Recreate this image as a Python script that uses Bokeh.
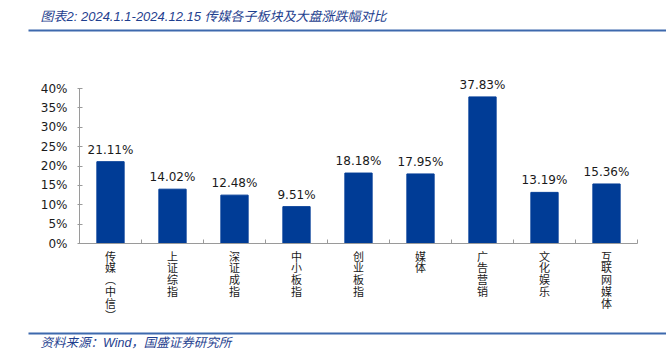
from bokeh.plotting import figure
from bokeh.models import (ColumnDataSource, FixedTicker, LabelSet, Label,
                          BoxAnnotation, NumeralTickFormatter, Range1d)
from bokeh.core.properties import value
from bokeh.embed import file_html
from bokeh.resources import INLINE

categories = ["传媒︵中信︶", "上证综指", "深证成指", "中小板指", "创业板指",
              "媒体", "广告营销", "文化娱乐", "互联网媒体"]
values = [21.11, 14.02, 12.48, 9.51, 18.18, 17.95, 37.83, 13.19, 15.36]
y_ticks = [0, 5, 10, 15, 20, 25, 30, 35, 40]

title_text = "图表2:  2024.1.1-2024.12.15 传媒各子板块及大盘涨跌幅对比"
source_text = "资料来源：Wind，国盛证券研究所"

FONT = "DejaVu Sans"
CJK = "Noto Sans CJK SC"
HEAD_FONT = "Liberation Sans, Noto Sans CJK SC"
BAR = "#003C96"
LINE = "#3D69AD"
TXT_BLUE = "#1F3F8F"
AXIS = "#9A9A9A"
TXT = "#1A1A1A"

W, H = 666, 355
L_PX, R_PX = 79, 637          # pixel columns of the category axis ends
Y0_PX, Y40_PX = 243, 88       # pixel rows of 0% and 40%
n = len(categories)

# the frame fills the whole canvas; axes are pinned at fixed locations
px_x = (R_PX - L_PX) / n
px_y = (Y0_PX - Y40_PX) / 0.40
x_range = Range1d(-L_PX / px_x, n + (W - R_PX) / px_x)
y_range = Range1d(-(H - Y0_PX) / px_y, 0.40 + Y40_PX / px_y)

xs = [i + 0.5 for i in range(n)]
src = ColumnDataSource(dict(
    x=xs, top=[v / 100 for v in values],
    lab=[f"{v:.2f}%" for v in values],
    cat=["\n".join(c) for c in categories]))

p = figure(width=W, height=H, output_backend="svg", toolbar_location=None,
           x_range=x_range, y_range=y_range, min_border=0)
p.outline_line_color = None
p.grid.visible = False

p.vbar(x="x", top="top", bottom=0, width=0.44, source=src,
       fill_color=BAR, line_color=BAR)

p.add_layout(LabelSet(x="x", y="top", text="lab", source=src,
                      text_align="center", text_baseline="bottom",
                      y_offset=5, text_font=value(FONT),
                      text_font_size="12px", text_color=TXT))

p.add_layout(LabelSet(x="x", y=0, text="cat", source=src,
                      text_align="center", text_baseline="top",
                      y_offset=-4, text_font=value(CJK),
                      text_font_size="11px", text_line_height=0.74,
                      text_color=TXT))

ya = p.yaxis[0]
ya.fixed_location = 0
ya.bounds = (0, 0.40)
ya.ticker = FixedTicker(ticks=[t / 100 for t in y_ticks])
ya.formatter = NumeralTickFormatter(format="0%")
ya.axis_line_color = AXIS
ya.major_tick_line_color = AXIS
ya.major_tick_in = 3
ya.major_tick_out = 2
ya.minor_tick_line_color = None
ya.major_label_text_font = FONT
ya.major_label_text_font_size = "12px"
ya.major_label_text_color = TXT
ya.major_label_standoff = 10

xa = p.xaxis[0]
xa.fixed_location = 0
xa.bounds = (0, n)
xa.ticker = FixedTicker(ticks=[], minor_ticks=list(range(n + 1)))
xa.axis_line_color = AXIS
xa.major_tick_line_color = None
xa.minor_tick_line_color = AXIS
xa.minor_tick_in = 4
xa.minor_tick_out = 0
xa.major_label_text_font_size = "0px"

# header and footer (screen units, measured from the bottom-left corner)
p.add_layout(Label(x=40, y=H - 16, x_units="screen", y_units="screen",
                   text=title_text, text_font=HEAD_FONT,
                   text_font_size="13px", text_font_style="italic",
                   text_color=TXT_BLUE, text_baseline="middle"))
p.add_layout(BoxAnnotation(left=28, right=W, top=H - 29, bottom=H - 31,
                           left_units="screen", right_units="screen",
                           top_units="screen", bottom_units="screen",
                           fill_color=LINE, fill_alpha=1, line_color=None))
p.add_layout(BoxAnnotation(left=28, right=W, top=H - 332, bottom=H - 334,
                           left_units="screen", right_units="screen",
                           top_units="screen", bottom_units="screen",
                           fill_color=LINE, fill_alpha=1, line_color=None))
p.add_layout(Label(x=40, y=H - 342, x_units="screen", y_units="screen",
                   text=source_text, text_font=HEAD_FONT,
                   text_font_size="12.5px", text_font_style="italic",
                   text_color=TXT_BLUE, text_baseline="middle"))

open("out.html", "w").write(file_html(p, INLINE))
